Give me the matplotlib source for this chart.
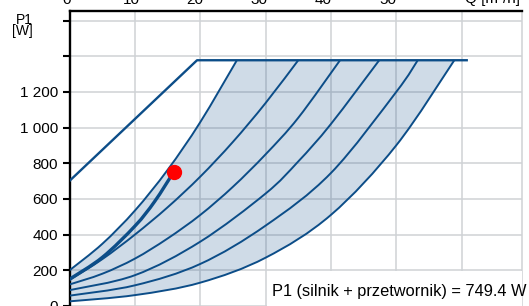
import matplotlib
matplotlib.use('Agg')
import matplotlib.pyplot as plt
from matplotlib.patches import Rectangle, PathPatch
from matplotlib.path import Path

plt.rcParams['font.family'] = ['Liberation Sans', 'DejaVu Sans']

# ---- data (Q in m3/h, P1 in W) ----
max_q = [0, 19.5, 60.8]
max_p = [702, 1378, 1378]

a_q = [0, 5, 10, 15, 20, 25.6]
a_p = [200, 348, 535, 763, 1031, 1378]

b_q = [0, 5, 10, 15, 20, 25, 30, 35.0]
b_p = [145, 262, 400, 553, 725, 920, 1138, 1378]

c_q = [0, 5, 10, 15, 20, 25, 30, 35, 41.4]
c_p = [120, 180, 265, 378, 510, 668, 850, 1055, 1378]

d_q = [0, 10, 20, 30, 35, 40, 47.4]
d_p = [88, 172, 360, 630, 810, 1020, 1378]

e_q = [0, 10, 20, 30, 40, 50, 53.3]
e_p = [57, 115, 235, 450, 745, 1200, 1378]

f_q = [0, 10, 20, 30, 40, 50, 58.9]
f_p = [25, 60, 130, 270, 510, 900, 1378]

duty_q = [0, 5, 10, 13, 15.9]
duty_p = [150, 272, 448, 585, 749.4]

point_q = 15.9
point_p = 749.4

y_ticks = [0, 200, 400, 600, 800, 1000, 1200, 1400, 1600]
y_labels = ['0', '200', '400', '600', '800', '1 000', '1 200', '', '']
x_grid = [10, 20, 30, 40, 50, 60]
top_labels = ['0', '10', '20', '30', '40', '50']
annotation = 'P1 (silnik + przetwornik) = 749.4 W'


def smooth_path(q, p, start=True):
    """Catmull-Rom curve through the given points, as cubic Bezier segments."""
    pts = list(zip(q, p))
    n = len(pts)
    verts = [pts[0]]
    codes = [Path.MOVETO if start else Path.LINETO]
    for i in range(n - 1):
        p0 = pts[i - 1] if i > 0 else pts[i]
        p1 = pts[i]
        p2 = pts[i + 1]
        p3 = pts[i + 2] if i + 2 < n else pts[i + 1]
        c1 = (p1[0] + (p2[0] - p0[0]) / 6, p1[1] + (p2[1] - p0[1]) / 6)
        c2 = (p2[0] - (p3[0] - p1[0]) / 6, p2[1] - (p3[1] - p1[1]) / 6)
        verts += [c1, c2, p2]
        codes += [Path.CURVE4] * 3
    return verts, codes


# ---- figure ----
W, H = 529, 306
fig = plt.figure(figsize=(W / 100, H / 100), dpi=100)
x0px, x1px = 69.7, 522.3
ytop_px, y0_px = 10.7, 305.8
ax = fig.add_axes([x0px / W, 1 - y0_px / H, (x1px - x0px) / W, (y0_px - ytop_px) / H])
ax.set_xlim(0, (x1px - x0px) / 6.53)
ax.set_ylim(0, (y0_px - ytop_px) / 0.1782)

line_col = '#0c4d88'
grid_col = '#cfd2d5'

ax.set_xticks(x_grid)
ax.set_yticks(y_ticks)
ax.set_yticklabels(y_labels)
ax.grid(True, color=grid_col, lw=1.1)
ax.tick_params(axis='x', length=0, labelbottom=False)
ax.tick_params(axis='y', length=5, width=1.5, pad=3.4, labelsize=11, color='black')

ax.spines['bottom'].set_visible(False)
ax.spines['right'].set_color(grid_col)
ax.spines['right'].set_linewidth(1.1)
ax.spines['left'].set_linewidth(1.7)
ax.spines['top'].set_linewidth(1.7)

# shaded area: left boundary curve A, top limit, right boundary curve F
va, ca = smooth_path(a_q, a_p)
vf, cf = smooth_path(f_q[::-1], f_p[::-1], start=False)
fill_path = Path(va + vf + [va[0]], ca + cf + [Path.CLOSEPOLY])
ax.add_patch(PathPatch(fill_path, facecolor='#255b92', alpha=0.22, lw=0, zorder=2))

for q, p in [(a_q, a_p), (b_q, b_p), (c_q, c_p), (d_q, d_p), (e_q, e_p), (f_q, f_p)]:
    v, c = smooth_path(q, p)
    ax.add_patch(PathPatch(Path(v, c), facecolor='none', edgecolor=line_col, lw=1.4, zorder=3))
ax.plot(max_q, max_p, color=line_col, lw=1.7, zorder=3)
v, c = smooth_path(duty_q, duty_p)
ax.add_patch(PathPatch(Path(v, c), facecolor='none', edgecolor=line_col, lw=2.4,
                       capstyle='round', zorder=3))
ax.plot([point_q], [point_p], 'o', color='#ff0000', ms=10, zorder=6)

# annotation box
bx = (267 - x0px) / (x1px - x0px)
ax.add_patch(Rectangle((bx, 0), 1 - bx, (y0_px - 271) / (y0_px - ytop_px),
                       transform=ax.transAxes, facecolor='white', edgecolor='none',
                       zorder=4, clip_on=False))
ax.text((272 - x0px) / 6.53, (y0_px - 296) / 0.1782, annotation, fontsize=11.8,
        ha='left', va='baseline', zorder=5)

# labels
fig.text(24 / W, 1 - 23.5 / H, 'P1', ha='center', va='baseline', fontsize=10)
fig.text(22 / W, 1 - 35.5 / H, '[W]', ha='center', va='baseline', fontsize=10)
for i, lab in enumerate(top_labels):
    fig.text((67 + 64.1 * i) / W, 1 - 3.5 / H, lab, ha='center', va='baseline', fontsize=11)
fig.text(465 / W, 1 - 3.5 / H, 'Q [m³/h]', ha='left', va='baseline', fontsize=11)

fig.savefig('out.png', dpi=100)
